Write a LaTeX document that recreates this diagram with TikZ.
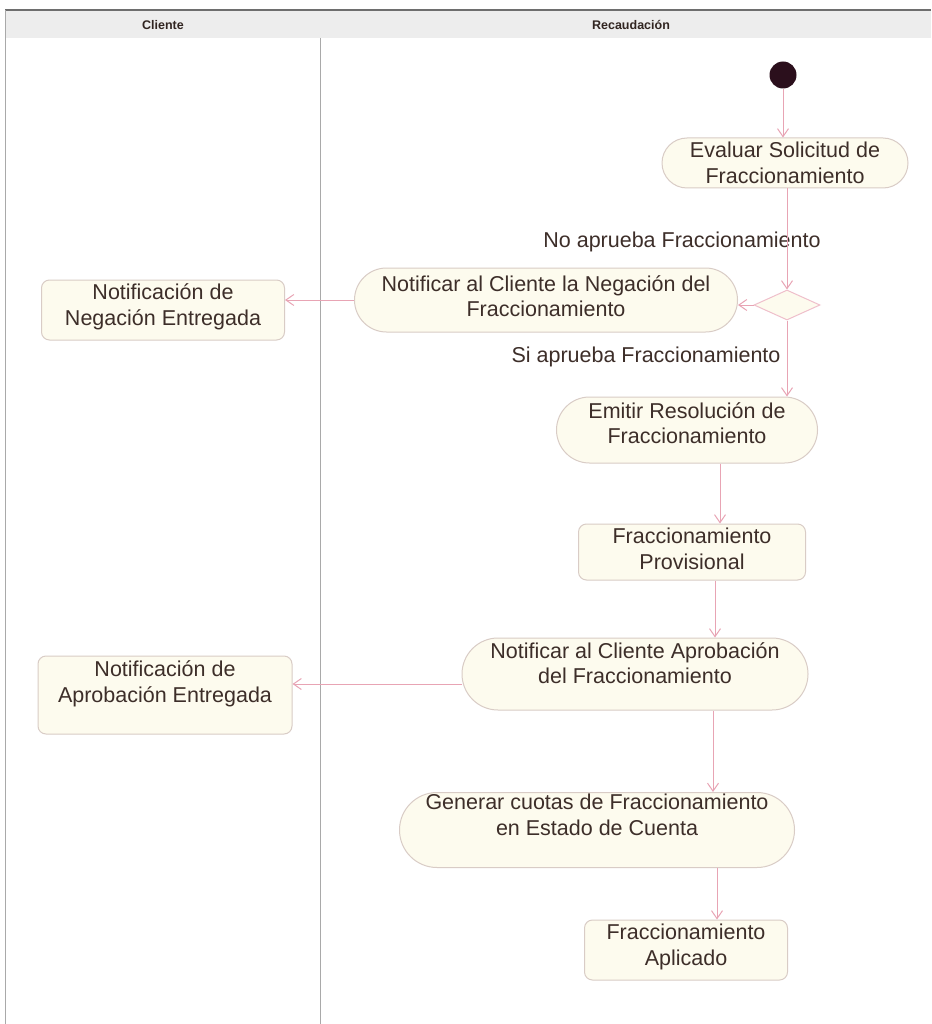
\documentclass[tikz,border=0pt]{standalone}
\usepackage{fontspec}
\setmainfont{Liberation Sans}
\usetikzlibrary{arrows.meta,shapes.misc,shapes.geometric}
\definecolor{flowc}{HTML}{E8A4B4}
\definecolor{boxline}{HTML}{D9CCC6}
\definecolor{boxfill}{HTML}{FDFBEE}
\definecolor{ink}{HTML}{3D2E29}
\definecolor{lane}{HTML}{A9A9A9}
\definecolor{hdrfill}{HTML}{EDEDED}
\definecolor{hdrline}{HTML}{6E6E6E}
\definecolor{startc}{HTML}{2B0F1C}
\begin{document}
\begin{tikzpicture}[x=1pt,y=-1pt,
  act/.style={rounded rectangle, draw=boxline, fill=boxfill, line width=1pt, inner sep=0pt},
  obj/.style={rectangle, rounded corners=8pt, draw=boxline, fill=boxfill, line width=1pt, inner sep=0pt},
  decision/.style={diamond, draw=flowc!70, fill=boxfill, line width=1pt, inner sep=0pt},
  txt/.style={font=\fontsize{21.5}{25.5}\selectfont, text=ink, align=center, inner sep=0pt},
  guard/.style={font=\fontsize{21.5}{25.5}\selectfont, text=ink, inner sep=0pt},
  lanehead/.style={font=\fontsize{12.5}{14}\selectfont\bfseries, text=ink!80!black, inner sep=0pt},
  flow/.style={draw=flowc, line width=1pt, -{Straight Barb[length=8pt,width=11pt,line width=1pt]}}
]
\useasboundingbox (0,0) rectangle (931,1024);
\fill[white] (0,0) rectangle (931,1024);

% swimlane frame and header
\fill[hdrfill] (5,10) rectangle (931,38);
\draw[hdrline, line width=2pt] (5,10) -- (931,10);
\draw[lane, line width=1pt] (5,10) -- (5,1024);
\draw[lane, line width=1pt] (320,38) -- (320,1024);
\node[lanehead] (h1) at (163,25) {Cliente};
\node[lanehead] (h2) at (631,25) {Recaudación};

% activities and objects
\node[circle, fill=startc, minimum size=27pt, inner sep=0pt] (start) at (783,75) {};

\node[act, minimum width=246pt, minimum height=50pt] (ev) at (785,163) {};
\node[txt] (evt) at (785,163) {Evaluar Solicitud de\\Fraccionamiento};

\node[decision, minimum width=66pt, minimum height=30pt] (dec) at (787,305) {};

\node[act, minimum width=383pt, minimum height=64pt] (nneg) at (546,300) {};
\node[txt] (nnegt) at (546,296) {Notificar al Cliente la Negación del\\Fraccionamiento};

\node[obj, minimum width=243pt, minimum height=60pt] (oneg) at (163,310) {};
\node[txt] (onegt) at (163,307) {Notificación de\\Negación Entregada};

\node[act, minimum width=261pt, minimum height=66pt] (emi) at (687,430) {};
\node[txt] (emit) at (687,423) {Emitir Resolución de\\Fraccionamiento};

\node[obj, minimum width=227pt, minimum height=56pt] (prov) at (692,552) {};
\node[txt] (provt) at (692,549) {Fraccionamiento\\Provisional};

\node[act, minimum width=346pt, minimum height=72pt] (napr) at (635,674) {};
\node[txt] (naprt) at (635,663) {Notificar al Cliente Aprobación\\del Fraccionamiento};

\node[obj, minimum width=254pt, minimum height=78pt] (oapr) at (165,695) {};
\node[txt] (oaprt) at (165,684) {Notificación de\\Aprobación Entregada};

\node[act, minimum width=395pt, minimum height=75pt] (gen) at (597,830) {};
\node[txt] (gent) at (597,815) {Generar cuotas de Fraccionamiento\\en Estado de Cuenta};

\node[obj, minimum width=203pt, minimum height=60pt] (apl) at (686,950) {};
\node[txt] (aplt) at (686,947) {Fraccionamiento\\Aplicado};

% guard conditions
\node[guard] (gno) at (682,242) {No aprueba Fraccionamiento};
\node[guard] (gsi) at (646,357) {Si aprueba Fraccionamiento};

% control flows
\draw[flow] (start.south) -- (start.south |- ev.north);
\draw[flow] (ev.south -| dec.north) -- (dec.north);
\draw[flow] (dec.west) -- (dec.west -| nneg.east);
\draw[flow] (nneg.west) -- (nneg.west -| oneg.east);
\draw[flow] (dec.south) -- (dec.south |- emi.north);
\draw[flow] ([xshift=33pt]emi.south) -- ([xshift=33pt]emi.south |- prov.north);
\draw[flow] ([xshift=23pt]prov.south) -- ([xshift=23pt]prov.south |- napr.north);
\draw[flow] ([yshift=-10pt]napr.west) -- ([yshift=-10pt]napr.west -| oapr.east);
\draw[flow] ([xshift=78pt]napr.south) -- ([xshift=78pt]napr.south |- gen.north);
\draw[flow] ([xshift=120pt]gen.south) -- ([xshift=120pt]gen.south |- apl.north);
\end{tikzpicture}
\end{document}
